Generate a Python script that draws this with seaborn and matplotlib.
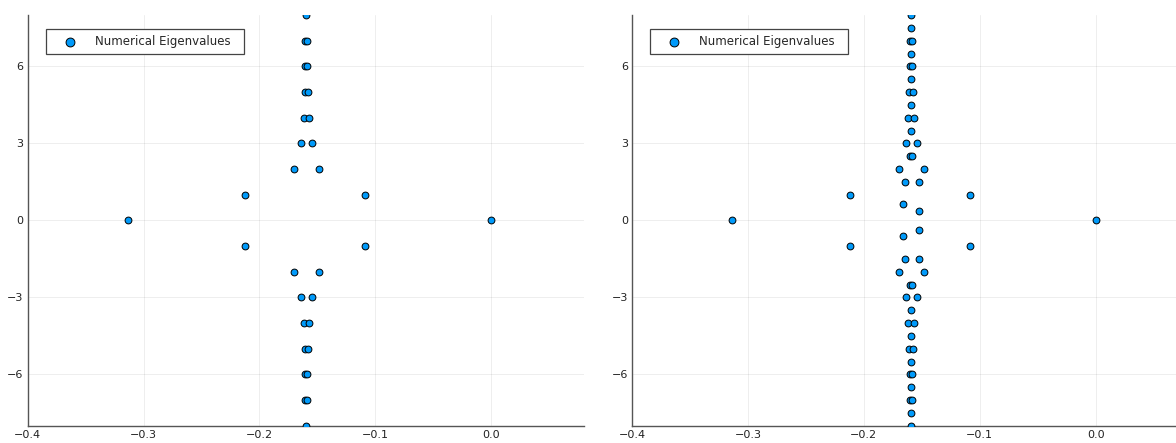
import matplotlib
matplotlib.use("Agg")
import matplotlib.pyplot as plt
import seaborn as sns
import pandas as pd

# ---- data: eigenvalues (real part, imaginary part) ----
left_re = [0.0, -0.3131, -0.2123, -0.2123, -0.1089, -0.1089,
           -0.1699, -0.1699, -0.1485, -0.1485,
           -0.1639, -0.1639, -0.1550, -0.1550,
           -0.1619, -0.1619, -0.1570, -0.1570,
           -0.1610, -0.1610, -0.1582, -0.1582,
           -0.1605, -0.1605, -0.1588, -0.1588,
           -0.1607, -0.1607, -0.1590, -0.1590,
           -0.1598, -0.1598]
left_im = [0, 0, 1, -1, 1, -1,
           2, -2, 2, -2,
           3, -3, 3, -3,
           4, -4, 4, -4,
           5, -5, 5, -5,
           6, -6, 6, -6,
           7, -7, 7, -7,
           8, -8]

right_re = [0.0, -0.3135, -0.2118, -0.2118, -0.1083, -0.1083,
            -0.1661, -0.1661, -0.1526, -0.1526,
            -0.1644, -0.1644, -0.1526, -0.1526,
            -0.1695, -0.1695, -0.1480, -0.1480,
            -0.1599, -0.1599, -0.1586, -0.1586,
            -0.1635, -0.1635, -0.1543, -0.1543,
            -0.1592, -0.1592,
            -0.1618, -0.1618, -0.1563, -0.1563,
            -0.1592, -0.1592,
            -0.1612, -0.1612, -0.1572, -0.1572,
            -0.1592, -0.1592,
            -0.1603, -0.1603, -0.1580, -0.1580,
            -0.1592, -0.1592,
            -0.1600, -0.1600, -0.1583, -0.1583,
            -0.1592, -0.1592,
            -0.1592, -0.1592]
right_im = [0, 0, 1, -1, 1, -1,
            0.62, -0.62, 0.36, -0.36,
            1.5, -1.5, 1.5, -1.5,
            2, -2, 2, -2,
            2.5, -2.5, 2.5, -2.5,
            3, -3, 3, -3,
            3.5, -3.5,
            4, -4, 4, -4,
            4.5, -4.5,
            5, -5, 5, -5,
            5.5, -5.5,
            6, -6, 6, -6,
            6.5, -6.5,
            7, -7, 7, -7,
            7.5, -7.5,
            8, -8]

x_ticks = [-0.4, -0.3, -0.2, -0.1, 0.0]
x_ticklabels = ["\u22120.4", "\u22120.3", "\u22120.2", "\u22120.1", "0.0"]
y_ticks = [-6, -3, 0, 3, 6]
y_ticklabels = ["\u22126", "\u22123", "0", "3", "6"]
label = "Numerical Eigenvalues"

sns.set_style("white")
plt.rcParams["font.family"] = ["DejaVu Sans"]

W, H = 1176, 443
fig = plt.figure(figsize=(W / 100, H / 100), dpi=100)

ax_w_px = 584 - 27.7
ax_h_px = 425.7 - 15
ax1 = fig.add_axes([27.7 / W, 1 - 425.7 / H, ax_w_px / W, ax_h_px / H])
ax2 = fig.add_axes([632 / W, 1 - 425.7 / H, ax_w_px / W, ax_h_px / H])

blue = "#009AFA"
for ax, re, im in [(ax1, left_re, left_im), (ax2, right_re, right_im)]:
    df = pd.DataFrame({"re": re, "im": im})
    sns.scatterplot(data=df, x="re", y="im", ax=ax, color=blue, s=24,
                    edgecolor="black", linewidth=0.7, label=label, zorder=3)
    ax.set_xlim(-0.4, 0.08)
    ax.set_ylim(-8, 8)
    ax.set_xticks(x_ticks)
    ax.set_xticklabels(x_ticklabels)
    ax.set_yticks(y_ticks)
    ax.set_yticklabels(y_ticklabels)
    ax.set_xlabel("")
    ax.set_ylabel("")
    ax.grid(True, color="black", alpha=0.065, linewidth=0.7)
    ax.set_axisbelow(True)
    for s in ["top", "right"]:
        ax.spines[s].set_visible(False)
    for s in ["left", "bottom"]:
        ax.spines[s].set_color("#555555")
        ax.spines[s].set_linewidth(1.0)
    ax.tick_params(direction="in", length=3, width=0.8, color="#555555",
                   labelsize=8, labelcolor="#222222", pad=3)
    leg = ax.legend(loc="upper left",
                    bbox_to_anchor=(18 / ax_w_px, 1 - 14 / ax_h_px,
                                    198 / ax_w_px, 0.0),
                    mode="expand",
                    borderaxespad=0, fontsize=8.5, frameon=True,
                    fancybox=False, framealpha=1, edgecolor="#444444",
                    handletextpad=0.59, borderpad=0.5, markerscale=1.3,
                    handlelength=3.06)
    leg.get_frame().set_linewidth(0.9)

fig.savefig("out.png", dpi=100)
